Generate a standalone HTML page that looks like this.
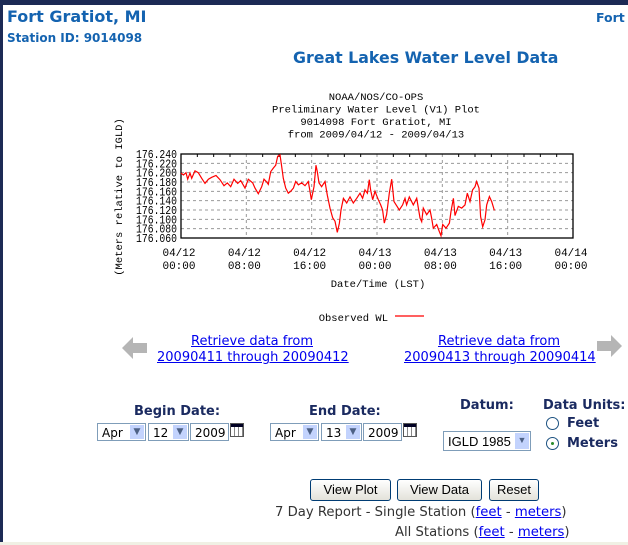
<!DOCTYPE html>
<html><head><meta charset="utf-8">
<style>
body{margin:0;width:628px;height:545px;overflow:hidden;background:#fff;position:relative;font-family:"DejaVu Sans","Liberation Sans",sans-serif}
.a{position:absolute;white-space:nowrap}
.h{color:#1463b0;font-weight:bold}
.lk{color:#0000ee;text-decoration:underline;font-size:13px;text-align:center;line-height:16px}
.lb{color:#1a2a60;font-weight:bold;font-size:13px}
.sel{position:absolute;height:18px;border:1px solid #7f9db9;background:#fff;font-size:12px;line-height:18px;box-sizing:border-box;padding-left:4px}
.sel .ar{position:absolute;right:1px;top:1px;width:14px;height:14px;background:#c3d3fd;border:0;color:#4d6185;font-size:9px;text-align:center;line-height:14px}
.btn{position:absolute;height:22px;border:1px solid #003c74;border-radius:3px;background:linear-gradient(#fff,#e3e2da);font-size:13px;line-height:20px;text-align:center;box-sizing:border-box;font-family:"Liberation Sans",sans-serif}
.cal{position:absolute;width:14px;height:14px;border:1px solid #555;background:repeating-linear-gradient(90deg,#fff 0 3px,#888 3px 4px);box-sizing:border-box}
.cal:before{content:"";position:absolute;left:0;right:0;top:0;height:3px;background:#002}
.rad{position:absolute;width:11px;height:11px;border:1px solid #1c5180;border-radius:50%;background:#fff}
</style></head><body>
<div class="a" style="left:0;top:0;width:628px;height:5px;background:#1c2a55"></div>
<div class="a" style="left:0;top:0;width:3px;height:545px;background:#1c2a55"></div>
<div class="a" style="left:0;top:542px;width:628px;height:3px;background:#f0f0e4"></div>
<div class="a h" style="left:7px;top:7px;font-size:16px">Fort Gratiot, MI</div>
<div class="a h" style="left:7px;top:31px;font-size:12px">Station ID: 9014098</div>
<div class="a h" style="left:596px;top:10px;font-size:12.5px">Fort</div>
<div class="a h" style="left:293px;top:48px;font-size:15.8px">Great Lakes Water Level Data</div>

<svg class="a" style="left:0;top:0" width="628" height="330" id="ch"></svg>

<svg class="a" style="left:122px;top:337px" width="26" height="22"><polygon points="0,11 11,0 11,6 25,6 25,16 11,16 11,22" fill="#b5b5b5"/></svg>
<svg class="a" style="left:597px;top:335px" width="26" height="22"><polygon points="25,11 14,0 14,6 0,6 0,16 14,16 14,22" fill="#b5b5b5"/></svg>
<div class="a lk" style="left:157px;top:334px;width:190px">Retrieve data from<br>20090411 through 20090412</div>
<div class="a lk" style="left:404px;top:334px;width:190px">Retrieve data from<br>20090413 through 20090414</div>

<div class="a lb" style="left:134px;top:404px">Begin Date:</div>
<div class="sel" style="left:97px;top:423px;width:49px">Apr<span class="ar">▼</span></div>
<div class="sel" style="left:148px;top:423px;width:41px">12<span class="ar">▼</span></div>
<div class="sel" style="left:190px;top:423px;width:39px">2009</div>
<div class="cal" style="left:230px;top:423px"></div>
<div class="a lb" style="left:309px;top:404px">End Date:</div>
<div class="sel" style="left:270px;top:423px;width:49px">Apr<span class="ar">▼</span></div>
<div class="sel" style="left:321px;top:423px;width:41px">13<span class="ar">▼</span></div>
<div class="sel" style="left:363px;top:423px;width:39px">2009</div>
<div class="cal" style="left:403px;top:423px"></div>
<div class="a lb" style="left:460px;top:398px">Datum:</div>
<div class="sel" style="left:443px;top:431px;width:88px;height:20px;line-height:20px;font-size:13px;font-family:'Liberation Sans',sans-serif">IGLD 1985<span class="ar" style="height:16px">▼</span></div>
<div class="a lb" style="left:543px;top:398px">Data Units:</div>
<div class="rad" style="left:546px;top:417px"></div>
<div class="a lb" style="left:567px;top:416px">Feet</div>
<div class="rad" style="left:546px;top:437px"><div style="position:absolute;left:4px;top:4px;width:3px;height:3px;background:#2a8c2a;border-radius:50%"></div></div>
<div class="a lb" style="left:567px;top:436px">Meters</div>

<div class="btn" style="left:310px;top:479px;width:81px">View Plot</div>
<div class="btn" style="left:397px;top:479px;width:85px">View Data</div>
<div class="btn" style="left:489px;top:479px;width:50px">Reset</div>
<div class="a" style="left:275px;top:505px;font-size:13.2px;color:#333">7 Day Report - Single Station (<span style="color:#00e;text-decoration:underline">feet</span> - <span style="color:#00e;text-decoration:underline">meters</span>)</div>
<div class="a" style="left:395px;top:525px;font-size:13.2px;color:#333">All Stations (<span style="color:#00e;text-decoration:underline">feet</span> - <span style="color:#00e;text-decoration:underline">meters</span>)</div>

<script>
const hours=[0,0.29,0.61,0.82,1.1,1.31,1.71,2.12,2.53,2.94,3.35,3.76,4.29,4.78,5.27,5.67,6.08,6.49,6.94,7.31,7.84,8.24,8.78,9.06,9.47,9.88,10.16,10.49,10.69,10.98,11.31,11.59,11.84,12.12,12.33,12.53,12.82,13.14,13.43,13.76,14.04,14.37,14.78,15.18,15.59,15.8,15.96,16.29,16.53,16.69,16.9,17.22,17.63,17.92,18.24,18.57,18.86,19.14,19.39,19.59,19.88,20.29,20.69,21.1,21.51,21.92,22.24,22.53,22.82,23.06,23.22,23.47,23.76,24.16,24.45,24.69,24.9,25.18,25.51,25.8,26.08,26.41,26.73,27.14,27.43,27.63,27.96,28.45,28.86,29.27,29.47,29.67,30.08,30.49,30.69,30.9,31.31,31.63,31.84,32.04,32.45,32.86,33.06,33.35,33.55,33.96,34.37,34.78,35.06,35.39,35.71,36,36.2,36.49,36.69,36.94,37.22,37.43,37.76,38.04,38.37];
const levels=[176.199,176.195,176.200,176.186,176.199,176.188,176.204,176.200,176.188,176.177,176.186,176.190,176.194,176.185,176.172,176.178,176.170,176.186,176.177,176.183,176.167,176.186,176.178,176.167,176.155,176.170,176.186,176.180,176.175,176.202,176.210,176.216,176.235,176.238,176.213,176.188,176.167,176.156,176.160,176.167,176.181,176.174,176.178,176.172,176.181,176.160,176.142,176.170,176.216,176.202,176.178,176.170,176.181,176.152,176.124,176.103,176.096,176.072,176.092,176.120,176.145,176.135,176.148,176.135,176.145,176.156,176.145,176.163,176.156,176.185,176.163,176.142,176.160,176.142,176.131,176.120,176.092,176.110,176.156,176.186,176.138,176.129,176.120,176.131,176.145,176.131,176.148,176.131,176.145,176.103,176.095,176.124,176.110,176.120,176.103,176.081,176.089,176.074,176.065,176.089,176.081,176.092,176.117,176.145,176.108,176.128,176.124,176.131,176.156,176.138,176.163,176.170,176.181,176.167,176.106,176.084,176.099,176.131,176.149,176.138,176.119];
const yTicks=[176.060,176.080,176.100,176.120,176.140,176.160,176.180,176.200,176.220,176.240];
const xTickHours=[0,8,16,24,32,40,48];
const xTickDates=["04/12","04/12","04/12","04/13","04/13","04/13","04/14"];
const xTickTimes=["00:00","08:00","16:00","00:00","08:00","16:00","00:00"];
const titleLines=["NOAA/NOS/CO-OPS","Preliminary  Water Level (V1) Plot","9014098 Fort Gratiot, MI","from 2009/04/12 - 2009/04/13"];

const L=181,R=573,T=154,B=238,ymin=176.06,ymax=176.24;
const X=h=>L+(h/48)*(R-L);
const Y=v=>B-(v-ymin)/(ymax-ymin)*(B-T);
const svg=document.getElementById('ch');
const NS='http://www.w3.org/2000/svg';
function mk(tag,at,txt){const e=document.createElementNS(NS,tag);for(const k in at)e.setAttribute(k,at[k]);if(txt!=null)e.textContent=txt;svg.appendChild(e);return e;}
const F='"Liberation Mono","DejaVu Sans Mono",monospace';
titleLines.forEach((t,i)=>{const e=mk('text',{x:376,y:100+i*12.5,'text-anchor':'middle','font-family':F,'font-size':10.5,fill:'#000','xml:space':'preserve'},t);

});
yTicks.forEach(v=>{
 if(v>ymin&&v<ymax){const g=mk('line',{x1:L,x2:R,y1:Y(v),y2:Y(v),stroke:'#999','stroke-dasharray':'3,3','stroke-width':1});
 
 }
 const t=mk('text',{x:L-4,y:Y(v)+4,'text-anchor':'end','font-family':F,'font-size':11.5,textLength:41,lengthAdjust:'spacingAndGlyphs',fill:'#000'},v.toFixed(3));
 
 
});
xTickHours.forEach((h,i)=>{
 if(h>0&&h<48){const g=mk('line',{x1:X(h),x2:X(h),y1:T,y2:B,stroke:'#999','stroke-dasharray':'3,3','stroke-width':1});
 
 }
 const a=mk('text',{x:X(h)-2,y:256,'text-anchor':'middle','font-family':F,'font-size':11,fill:'#000'},xTickDates[i]);
 
 
 const b=mk('text',{x:X(h)-2,y:269,'text-anchor':'middle','font-family':F,'font-size':11,fill:'#000'},xTickTimes[i]);
 
 
});
for(let h=2;h<48;h+=2){if(h%8){const tk=mk('line',{x1:X(h),x2:X(h),y1:T,y2:T+3,stroke:'#000'});

}}
const fr=mk('rect',{x:L,y:T,width:R-L,height:B-T,fill:'none',stroke:'#000','stroke-width':1.3});


const pl=mk('polyline',{points:hours.map((h,i)=>X(h).toFixed(1)+','+Y(levels[i]).toFixed(1)).join(' '),fill:'none',stroke:'#f00','stroke-width':1.2});


const yl=mk('text',{x:0,y:0,transform:'translate(122,197) rotate(-90)','text-anchor':'middle','font-family':F,'font-size':10.5,fill:'#000'},'(Meters relative to IGLD)');


const xl=mk('text',{x:378,y:287,'text-anchor':'middle','font-family':F,'font-size':10.5,fill:'#000'},'Date/Time (LST)');


const lg=mk('text',{x:388,y:321,'text-anchor':'end','font-family':F,'font-size':10.5,fill:'#000'},'Observed WL');


const ll=mk('line',{x1:395,x2:424,y1:316,y2:316,stroke:'#f00','stroke-width':1.2});


</script>
</body></html>
